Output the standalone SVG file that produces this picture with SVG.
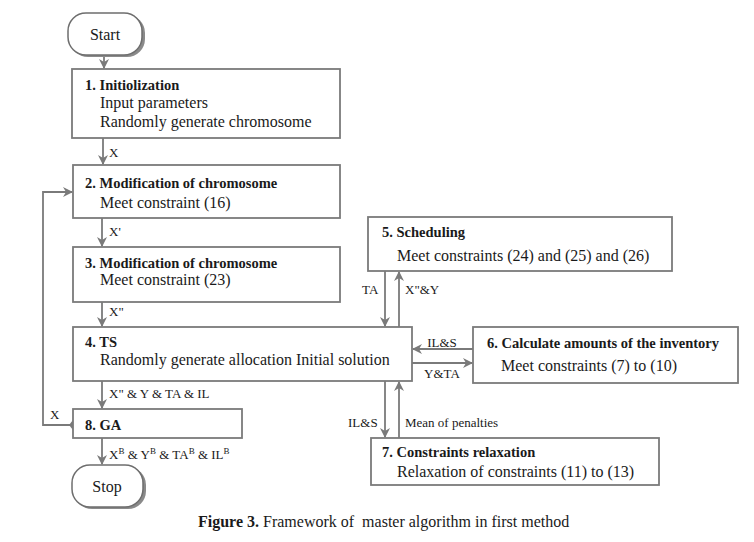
<svg xmlns="http://www.w3.org/2000/svg" width="754" height="542" viewBox="0 0 754 542">
<style>
  .box { fill: #ffffff; stroke: #7a7a7a; stroke-width: 1.8; }
  .term { fill: #ffffff; stroke: #6e6e6e; stroke-width: 1.5; }
  .shadow { fill: #8a8a8a; }
  .t { font-family: "Liberation Serif", "Times New Roman", serif; font-size: 16px; fill: #1a1a1a; }
  .b { font-family: "Liberation Serif", "Times New Roman", serif; font-size: 14.5px; font-weight: bold; fill: #1a1a1a; }
  .l { font-family: "Liberation Serif", "Times New Roman", serif; font-size: 13px; fill: #1a1a1a; }
  .c { fill: none; stroke: #7a7a7a; stroke-width: 1.8; }
</style>
<defs>
  <marker id="ah" markerWidth="10" markerHeight="10" refX="9" refY="5" orient="auto" markerUnits="userSpaceOnUse">
    <path d="M0,0 L10,5 L0,10 L3,5 Z" fill="#7a7a7a"/>
  </marker>
</defs>
<rect width="754" height="542" fill="#ffffff"/>

<g id="connectors">
  <line class="c" x1="104" y1="55" x2="104" y2="68" marker-end="url(#ah)"/>
  <line class="c" x1="103" y1="138" x2="103" y2="164" marker-end="url(#ah)"/>
  <line class="c" x1="102" y1="218" x2="102" y2="246" marker-end="url(#ah)"/>
  <line class="c" x1="102" y1="302" x2="102" y2="326" marker-end="url(#ah)"/>
  <line class="c" x1="102" y1="381" x2="102" y2="408" marker-end="url(#ah)"/>
  <line class="c" x1="102" y1="438" x2="102" y2="464" marker-end="url(#ah)"/>
  <polyline class="c" points="73,425 43,425 43,192 72,192" marker-end="url(#ah)"/>
  <path d="M73,420 L77,425 L73,430 L69,425 Z" fill="#7a7a7a"/>
  <line class="c" x1="385" y1="271" x2="385" y2="326" marker-end="url(#ah)"/>
  <line class="c" x1="399" y1="327" x2="399" y2="272" marker-end="url(#ah)"/>
  <line class="c" x1="473" y1="349" x2="413" y2="349" marker-end="url(#ah)"/>
  <line class="c" x1="412" y1="363" x2="472" y2="363" marker-end="url(#ah)"/>
  <line class="c" x1="385" y1="381" x2="385" y2="437" marker-end="url(#ah)"/>
  <line class="c" x1="399" y1="438" x2="399" y2="382" marker-end="url(#ah)"/>
  <text class="l" x="109" y="157">X</text>
  <text class="l" x="109" y="236">X'</text>
  <text class="l" x="109" y="316">X"</text>
  <text class="l" x="109" y="398">X" &amp; Y &amp; TA &amp; IL</text>
  <text class="l" x="109" y="459">X<tspan font-size="9" dy="-5">B</tspan><tspan dy="5"> &amp; Y</tspan><tspan font-size="9" dy="-5">B</tspan><tspan dy="5"> &amp; TA</tspan><tspan font-size="9" dy="-5">B</tspan><tspan dy="5"> &amp; IL</tspan><tspan font-size="9" dy="-5">B</tspan></text>
  <text class="l" x="50" y="419">X</text>
  <text class="l" x="362" y="294">TA</text>
  <text class="l" x="405" y="294">X"&amp;Y</text>
  <text class="l" x="442" y="347" text-anchor="middle">IL&amp;S</text>
  <text class="l" x="442" y="378" text-anchor="middle">Y&amp;TA</text>
  <text class="l" x="348" y="427">IL&amp;S</text>
  <text class="l" x="405" y="427">Mean of penalties</text>
</g>

<g id="start">
  <rect class="shadow" x="70" y="15" width="75" height="42" rx="18"/>
  <rect class="term" x="68" y="13" width="74" height="42" rx="18"/>
  <text class="t" x="105" y="40" text-anchor="middle">Start</text>
</g>

<g id="n1">
  <rect class="box" x="72" y="69" width="268" height="69"/>
  <text class="b" x="85" y="90">1. Initiolization</text>
  <text class="t" x="100" y="108">Input parameters</text>
  <text class="t" x="100" y="127">Randomly generate chromosome</text>
</g>

<g id="n2">
  <rect class="box" x="73" y="165" width="267" height="53"/>
  <text class="b" x="85" y="188">2. Modification of chromosome</text>
  <text class="t" x="100" y="208">Meet constraint (16)</text>
</g>

<g id="n3">
  <rect class="box" x="73" y="247" width="267" height="55"/>
  <text class="b" x="85" y="268">3. Modification of chromosome</text>
  <text class="t" x="100" y="285">Meet constraint (23)</text>
</g>

<g id="n4">
  <rect class="box" x="73" y="327" width="339" height="54"/>
  <text class="b" x="85" y="347">4. TS</text>
  <text class="t" x="100" y="365">Randomly generate allocation Initial solution</text>
</g>

<g id="n5">
  <rect class="box" x="368" y="217" width="304" height="54"/>
  <text class="b" x="382" y="237">5. Scheduling</text>
  <text class="t" x="397" y="261">Meet constraints (24) and (25) and (26)</text>
</g>

<g id="n6">
  <rect class="box" x="473" y="327" width="265" height="56"/>
  <text class="b" x="487" y="348">6. Calculate amounts of the inventory</text>
  <text class="t" x="501" y="371">Meet constraints (7) to (10)</text>
</g>

<g id="n7">
  <rect class="box" x="371" y="438" width="288" height="47"/>
  <text class="b" x="382" y="457">7. Constraints relaxation</text>
  <text class="t" x="397" y="477">Relaxation of constraints (11) to (13)</text>
</g>

<g id="n8">
  <rect class="box" x="73" y="409" width="169" height="29"/>
  <text class="b" x="85" y="430">8. GA</text>
</g>

<g id="stop">
  <rect class="shadow" x="74" y="467" width="72" height="42" rx="18"/>
  <rect class="term" x="72" y="465" width="71" height="42" rx="18"/>
  <text class="t" x="107" y="492" text-anchor="middle">Stop</text>
</g>

<text class="t" x="198" y="527" xml:space="preserve"><tspan font-weight="bold">Figure 3.</tspan> Framework of  master algorithm in first method</text>
</svg>
